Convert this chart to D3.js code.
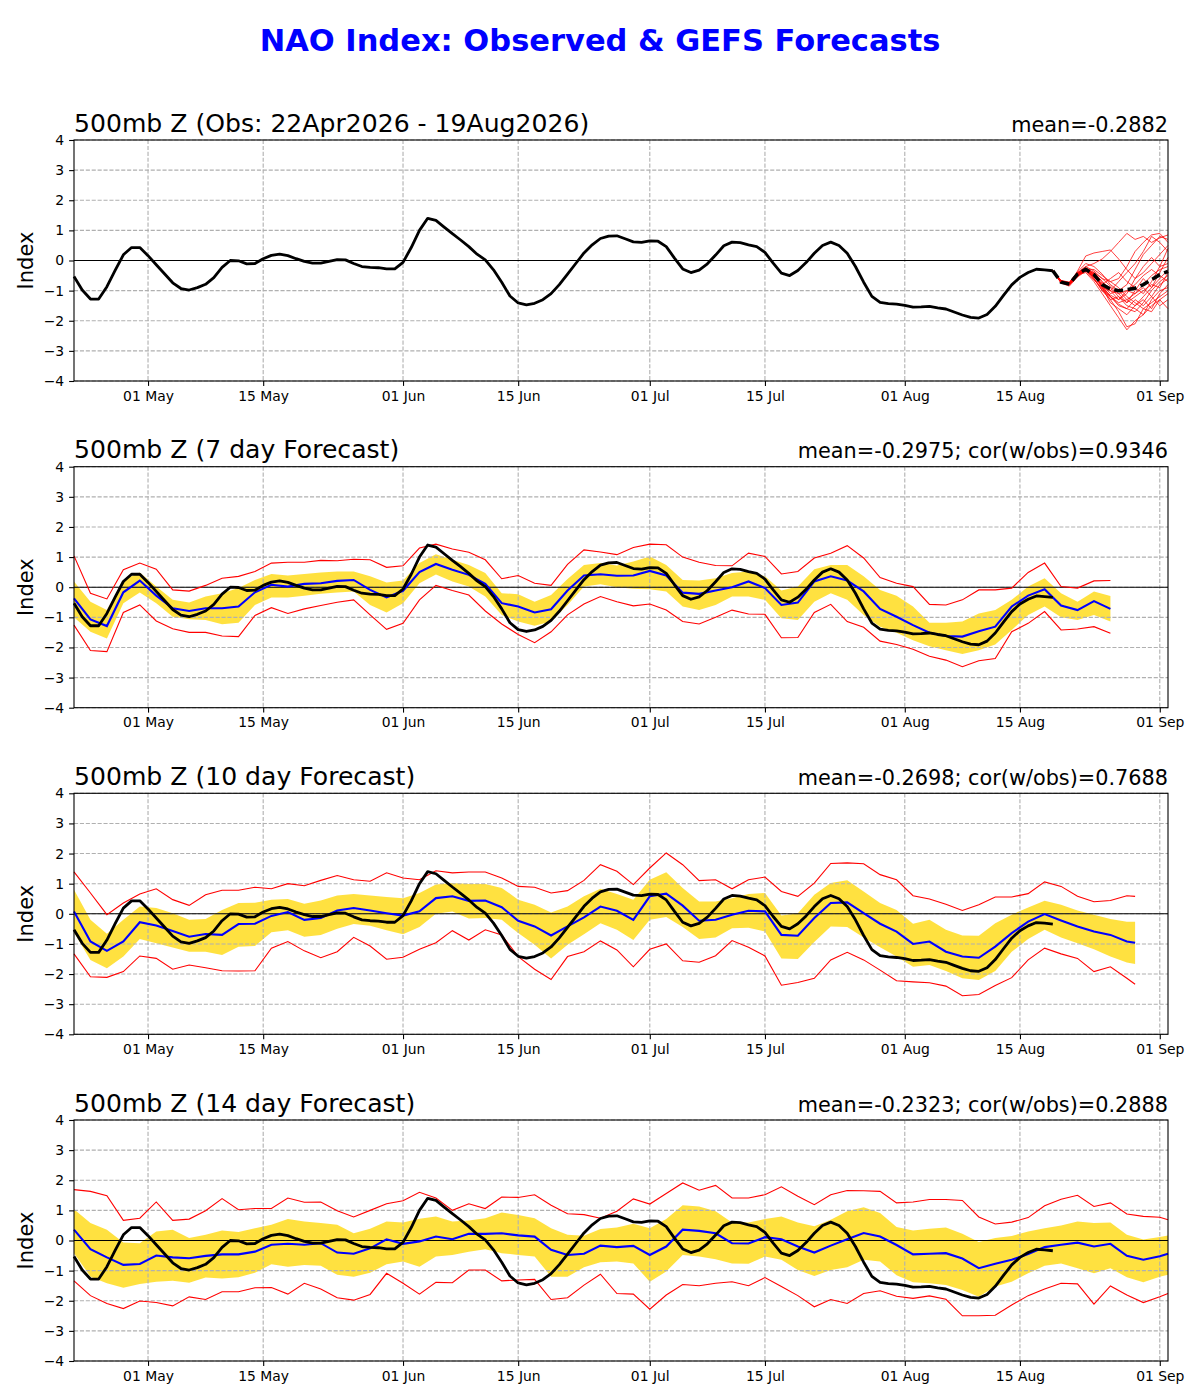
<!DOCTYPE html>
<html lang="en">
<head>
<meta charset="UTF-8">
<title>NAO Index: Observed & GEFS Forecasts</title>
<script src="https://cdn.jsdelivr.net/npm/d3@7"></script>
<style>
  body { margin: 0; background: #fff; }
  text { font-family: "DejaVu Sans", sans-serif; }
</style>
</head>
<body>
<script>
// ---- data ----
// observed NAO index, one value per day from 22 Apr 2026 to 19 Aug 2026
var obs = [
  -0.53,-0.98,-1.28,-1.28,-0.87,-0.33,0.19,0.43,0.43,0.16,
  -0.14,-0.44,-0.74,-0.93,-0.98,-0.90,-0.79,-0.57,-0.23,0.00,
  -0.01,-0.11,-0.10,0.06,0.17,0.21,0.16,0.06,-0.03,-0.09,
  -0.09,-0.03,0.03,0.02,-0.10,-0.20,-0.23,-0.24,-0.28,-0.28,
  -0.06,0.43,1.00,1.40,1.33,1.11,0.89,0.68,0.46,0.21,
  0.02,-0.31,-0.72,-1.18,-1.41,-1.47,-1.42,-1.30,-1.10,-0.80,
  -0.45,-0.10,0.25,0.52,0.73,0.81,0.82,0.72,0.62,0.60,
  0.65,0.64,0.46,0.08,-0.28,-0.40,-0.32,-0.11,0.18,0.49,
  0.61,0.59,0.52,0.46,0.27,-0.09,-0.42,-0.50,-0.33,-0.07,
  0.24,0.50,0.61,0.50,0.24,-0.20,-0.72,-1.19,-1.39,-1.43,
  -1.45,-1.49,-1.55,-1.54,-1.52,-1.57,-1.61,-1.71,-1.81,-1.89,
  -1.91,-1.79,-1.52,-1.16,-0.81,-0.56,-0.40,-0.29,-0.31,-0.34
];

// GEFS members, 19 Aug - 02 Sep (daily)
var ensMembers = [
  [-0.34,-0.68,-0.75,-0.42,-0.20,-0.10,0.05,0.30,0.60,0.90,0.70,0.80,0.60,0.75,0.85],
  [-0.34,-0.70,-0.80,-0.50,-0.30,-0.45,-0.90,-1.30,-1.70,-2.20,-2.10,-1.60,-1.40,-1.20,-1.00],
  [-0.34,-0.72,-0.78,-0.35,0.15,0.25,0.30,0.35,0.05,-0.30,-0.60,-0.40,-0.10,0.20,0.50],
  [-0.34,-0.66,-0.72,-0.40,-0.25,-0.60,-1.00,-1.20,-1.40,-1.30,-1.10,-0.90,-1.20,-1.50,-1.30],
  [-0.34,-0.75,-0.85,-0.55,-0.35,-0.55,-0.80,-1.10,-1.00,-0.80,-0.30,0.20,0.50,0.80,0.70],
  [-0.34,-0.70,-0.76,-0.48,-0.40,-0.70,-1.10,-1.50,-1.90,-2.30,-2.00,-1.80,-1.50,-1.30,-1.60],
  [-0.34,-0.68,-0.74,-0.45,-0.28,-0.30,-0.50,-0.70,-0.60,-0.20,0.30,0.60,0.85,0.90,0.60],
  [-0.34,-0.73,-0.80,-0.50,-0.35,-0.50,-0.85,-1.20,-1.50,-1.60,-1.70,-1.40,-1.00,-0.70,-0.50],
  [-0.34,-0.70,-0.77,-0.44,-0.30,-0.55,-0.75,-0.90,-1.20,-1.40,-1.20,-1.00,-0.80,-0.90,-0.40],
  [-0.34,-0.69,-0.79,-0.47,-0.32,-0.40,-0.60,-0.85,-1.10,-1.00,-0.80,-0.50,-0.30,-0.50,-0.70],
  [-0.34,-0.74,-0.82,-0.52,-0.33,-0.60,-1.00,-1.30,-1.20,-1.50,-1.60,-1.80,-1.30,-1.00,-0.90],
  [-0.34,-0.67,-0.73,-0.38,-0.10,-0.20,-0.45,-0.80,-1.00,-1.30,-1.50,-1.30,-1.60,-1.10,-0.80],
  [-0.34,-0.71,-0.80,-0.50,-0.30,-0.45,-0.70,-1.00,-1.30,-1.10,-0.60,-0.20,0.10,-0.20,-0.10],
  [-0.34,-0.72,-0.78,-0.43,-0.30,-0.50,-0.90,-1.40,-1.60,-1.80,-1.50,-1.20,-0.90,-0.60,-0.30],
  [-0.34,-0.70,-0.76,-0.46,-0.35,-0.65,-0.90,-1.00,-0.70,-0.40,-0.10,0.30,0.80,0.60,0.30],
  [-0.34,-0.69,-0.75,-0.41,-0.20,-0.35,-0.60,-0.70,-0.90,-1.20,-1.40,-1.60,-1.70,-1.30,-1.10],
  [-0.34,-0.73,-0.81,-0.48,-0.30,-0.60,-0.95,-1.15,-1.30,-1.00,-1.10,-0.80,-0.50,-0.30,-0.20],
  [-0.34,-0.70,-0.77,-0.45,-0.25,-0.40,-0.70,-1.00,-1.10,-1.40,-1.00,-0.60,-0.90,-0.40,0.10],
  [-0.34,-0.68,-0.78,-0.50,-0.30,-0.50,-0.80,-0.60,-0.40,-0.70,-0.90,-1.10,-0.70,-0.20,0.40],
  [-0.34,-0.71,-0.79,-0.44,-0.27,-0.45,-0.85,-1.20,-1.45,-1.60,-1.30,-1.50,-1.20,-0.80,-0.60]
];
var ensMean = [-0.34,-0.72,-0.78,-0.45,-0.29,-0.47,-0.80,-0.95,-1.00,-0.97,-0.92,-0.80,-0.64,-0.47,-0.36];

// verifying forecasts, every 2nd day from 22 Apr (last point = forecast end)
var p7Blue = [
  -0.37,-1.07,-1.29,-0.17,0.22,-0.28,-0.70,-0.79,-0.70,-0.70,
  -0.64,-0.17,0.08,0.02,0.11,0.13,0.21,0.24,-0.09,-0.34,
  -0.12,0.50,0.77,0.58,0.41,0.11,-0.53,-0.64,-0.84,-0.73,
  -0.11,0.39,0.43,0.38,0.39,0.54,0.39,-0.18,-0.22,-0.11,
  0.00,0.19,-0.03,-0.59,-0.51,0.19,0.36,0.22,-0.14,-0.72,
  -0.98,-1.26,-1.51,-1.62,-1.64,-1.46,-1.31,-0.64,-0.28,-0.07,
  -0.61,-0.76,-0.46,-0.72];
var p7BandHi = [
  0.19,-0.48,-0.76,0.24,0.49,0.02,-0.42,-0.51,-0.31,-0.20,
  -0.03,0.24,0.44,0.39,0.44,0.49,0.52,0.52,0.36,0.16,
  0.22,0.80,1.09,0.91,0.74,0.47,-0.20,-0.23,-0.48,-0.26,
  0.27,0.74,0.80,0.72,0.85,1.02,0.74,0.24,0.22,0.30,
  0.47,0.52,0.36,-0.11,0.02,0.60,0.74,0.74,0.36,-0.09,
  -0.28,-0.64,-1.18,-1.18,-1.14,-0.87,-0.76,-0.42,0.02,0.30,
  -0.20,-0.48,-0.14,-0.29];
var p7BandLo = [
  -1.00,-1.48,-1.70,-0.53,-0.18,-0.53,-0.98,-1.06,-1.09,-1.23,
  -1.18,-0.59,-0.34,-0.34,-0.28,-0.22,-0.18,-0.14,-0.59,-0.84,
  -0.53,0.13,0.42,0.19,0.02,-0.31,-0.92,-1.14,-1.28,-1.14,
  -0.59,0.02,0.10,0.00,-0.05,-0.07,-0.14,-0.64,-0.76,-0.59,
  -0.31,-0.31,-0.42,-1.03,-1.09,-0.48,-0.20,-0.42,-0.92,-1.31,
  -1.51,-1.76,-1.96,-2.09,-2.22,-2.09,-1.90,-1.42,-0.92,-0.64,
  -1.00,-1.09,-0.92,-1.14];
var p7RedHi = [
  1.04,-0.20,-0.39,0.58,0.80,0.60,-0.09,-0.13,0.06,0.30,
  0.36,0.52,0.80,0.83,0.83,0.89,0.88,0.93,0.91,0.66,
  0.71,1.30,1.43,1.27,1.16,0.91,0.28,0.39,0.13,0.06,
  0.76,1.24,1.17,1.08,1.32,1.43,1.41,1.00,0.83,0.72,
  0.71,1.13,1.02,0.44,0.52,0.97,1.13,1.38,0.97,0.32,
  0.13,0.02,-0.57,-0.59,-0.42,-0.09,-0.09,-0.03,0.49,0.80,
  0.02,-0.03,0.21,0.22];
var p7RedLo = [
  -1.26,-2.10,-2.14,-0.84,-0.59,-1.12,-1.38,-1.50,-1.50,-1.62,
  -1.64,-0.94,-0.68,-0.87,-0.72,-0.61,-0.50,-0.42,-0.92,-1.40,
  -1.20,-0.42,0.06,-0.11,-0.26,-0.79,-1.22,-1.57,-1.84,-1.48,
  -0.92,-0.56,-0.31,-0.48,-0.62,-0.56,-0.76,-1.14,-1.22,-1.00,
  -0.76,-0.89,-0.90,-1.68,-1.67,-0.84,-0.57,-1.14,-1.33,-1.79,
  -1.90,-2.06,-2.29,-2.42,-2.64,-2.44,-2.37,-1.48,-1.20,-0.81,
  -1.42,-1.39,-1.31,-1.53];

var p10Blue = [
  0.08,-0.92,-1.23,-0.92,-0.28,-0.39,-0.57,-0.76,-0.67,-0.70,
  -0.34,-0.33,-0.07,0.06,-0.20,-0.14,0.11,0.19,0.11,0.02,
  -0.06,0.08,0.52,0.58,0.43,0.44,0.22,-0.23,-0.42,-0.72,
  -0.42,-0.12,0.24,0.10,-0.20,0.58,0.67,0.27,-0.23,-0.20,
  -0.03,0.10,0.08,-0.70,-0.73,-0.14,0.36,0.38,0.02,-0.33,
  -0.59,-1.00,-0.92,-1.26,-1.42,-1.46,-1.09,-0.64,-0.26,-0.01,
  -0.22,-0.42,-0.59,-0.70,-0.92,-0.96];
var p10BandHi = [
  0.80,-0.20,-0.66,-0.20,0.24,0.19,0.02,-0.20,-0.17,0.13,
  0.36,0.37,0.47,0.49,0.33,0.44,0.61,0.66,0.61,0.56,
  0.52,0.69,0.97,1.02,0.99,0.99,0.86,0.47,0.30,0.04,
  0.24,0.58,0.83,0.66,0.47,1.13,1.38,0.86,0.41,0.41,
  0.52,0.66,0.69,-0.06,0.02,0.63,1.02,1.11,0.74,0.36,
  0.13,-0.33,-0.20,-0.53,-0.72,-0.73,-0.31,-0.03,0.21,0.43,
  0.30,0.11,-0.03,-0.17,-0.26,-0.26];
var p10BandLo = [
  -0.62,-1.53,-1.81,-1.42,-0.84,-0.98,-1.12,-1.26,-1.26,-1.37,
  -1.09,-1.07,-0.61,-0.55,-0.76,-0.70,-0.50,-0.34,-0.40,-0.55,
  -0.68,-0.44,0.00,0.08,-0.16,-0.14,-0.20,-0.64,-1.03,-1.48,
  -1.03,-0.68,-0.31,-0.53,-0.87,-0.20,-0.11,-0.44,-0.84,-0.79,
  -0.48,-0.46,-0.59,-1.48,-1.50,-0.94,-0.42,-0.44,-0.79,-1.11,
  -1.42,-1.76,-1.70,-1.90,-2.14,-2.20,-1.90,-1.26,-0.84,-0.53,
  -0.79,-0.98,-1.18,-1.42,-1.62,-1.67];
var p10RedHi = [
  1.39,0.69,-0.03,0.36,0.66,0.83,0.47,0.28,0.63,0.78,
  0.78,0.88,0.83,1.00,0.93,1.11,1.27,1.13,1.08,1.36,
  1.19,1.13,1.43,1.36,1.39,1.39,1.19,0.91,0.88,0.69,
  0.77,1.11,1.63,1.41,0.97,1.52,2.02,1.63,1.10,1.13,
  0.83,1.13,1.22,0.74,0.58,1.02,1.67,1.69,1.66,1.30,
  1.13,0.60,0.49,0.32,0.11,0.30,0.56,0.56,0.67,1.06,
  0.91,0.58,0.40,0.44,0.60,0.58];
var p10RedLo = [
  -1.33,-2.09,-2.11,-1.92,-1.40,-1.48,-1.84,-1.70,-1.79,-1.89,
  -1.90,-1.89,-1.14,-0.92,-1.23,-1.46,-1.26,-0.78,-1.07,-1.51,
  -1.44,-1.18,-0.96,-0.56,-0.87,-0.53,-0.70,-1.42,-1.84,-2.18,
  -1.42,-1.26,-0.90,-1.20,-1.76,-1.18,-1.00,-1.56,-1.61,-1.39,
  -0.89,-1.11,-1.40,-2.37,-2.28,-2.14,-1.53,-1.28,-1.53,-1.87,
  -2.22,-2.26,-2.29,-2.40,-2.72,-2.68,-2.38,-2.12,-1.53,-1.14,
  -1.33,-1.48,-1.92,-1.76,-2.14,-2.34];

var p14Blue = [
  0.36,-0.29,-0.56,-0.81,-0.78,-0.50,-0.56,-0.59,-0.51,-0.46,
  -0.46,-0.37,-0.14,-0.11,-0.14,-0.09,-0.40,-0.44,-0.26,0.04,
  -0.11,-0.03,0.13,0.04,0.22,0.22,0.24,0.17,0.13,-0.31,
  -0.48,-0.44,-0.17,-0.22,-0.18,-0.48,-0.20,0.36,0.32,0.24,
  -0.09,-0.10,0.11,0.04,-0.20,-0.40,-0.17,0.04,0.25,0.13,
  -0.15,-0.46,-0.44,-0.42,-0.60,-0.92,-0.77,-0.64,-0.45,-0.22,
  -0.14,-0.07,-0.20,-0.11,-0.51,-0.64,-0.52,-0.44];
var p14BandHi = [
  1.04,0.58,0.36,-0.07,-0.09,0.30,0.36,0.08,0.19,0.33,
  0.28,0.41,0.52,0.71,0.63,0.58,0.52,0.24,0.39,0.63,
  0.60,0.72,0.80,0.63,0.66,0.74,0.93,0.85,0.74,0.41,
  0.19,0.16,0.38,0.43,0.56,0.41,0.71,1.17,1.13,0.97,
  0.60,0.60,0.71,0.80,0.60,0.47,0.69,0.97,1.10,0.91,
  0.45,0.33,0.39,0.43,0.22,-0.05,0.08,0.15,0.30,0.41,
  0.50,0.63,0.58,0.60,0.19,0.03,0.12,0.17];
var p14BandLo = [
  -0.42,-1.20,-1.42,-1.57,-1.44,-1.37,-1.34,-1.40,-1.23,-1.26,
  -1.22,-1.07,-0.79,-0.87,-0.81,-0.84,-1.14,-1.20,-1.07,-0.79,
  -0.70,-0.87,-0.53,-0.48,-0.37,-0.29,-0.42,-0.48,-0.53,-1.20,
  -1.20,-0.89,-0.72,-0.70,-0.76,-1.37,-1.03,-0.48,-0.53,-0.62,
  -0.76,-0.77,-0.53,-0.64,-0.98,-1.18,-0.98,-0.89,-0.64,-0.70,
  -1.15,-1.39,-1.42,-1.48,-1.64,-1.87,-1.53,-1.37,-1.09,-0.84,
  -0.76,-0.92,-1.09,-0.92,-1.22,-1.39,-1.20,-1.14];
var p14RedHi = [
  1.69,1.63,1.49,0.67,0.74,1.28,0.67,0.71,0.99,1.39,
  1.02,1.06,1.06,1.41,1.27,1.28,0.99,0.78,1.00,1.22,
  1.32,1.60,1.41,1.00,1.22,1.06,1.44,1.43,1.52,1.17,
  0.89,0.86,0.74,0.97,1.38,1.21,1.56,1.91,1.67,1.83,
  1.41,1.41,1.52,1.78,1.47,1.19,1.52,1.66,1.65,1.63,
  1.25,1.28,1.36,1.36,1.33,0.78,0.55,0.61,0.76,1.15,
  1.37,1.50,1.13,1.25,0.88,0.80,0.77,0.69];
var p14RedLo = [
  -1.34,-1.83,-2.09,-2.26,-2.01,-2.06,-2.17,-1.87,-1.96,-1.70,
  -1.70,-1.57,-1.56,-1.78,-1.42,-1.61,-1.90,-1.98,-1.79,-1.09,
  -1.42,-1.78,-1.39,-1.40,-0.98,-0.98,-1.34,-1.31,-1.29,-1.96,
  -1.90,-1.48,-1.12,-1.76,-1.78,-2.28,-1.81,-1.46,-1.50,-1.42,
  -1.37,-1.50,-1.23,-1.53,-1.83,-2.20,-1.96,-2.09,-1.76,-1.67,
  -1.85,-1.92,-1.84,-1.95,-2.50,-2.50,-2.48,-2.14,-1.83,-1.61,
  -1.42,-1.44,-2.11,-1.51,-1.81,-2.06,-1.87,-1.76];

var tickDates = ["2026-05-01","2026-05-15","2026-06-01","2026-06-15","2026-07-01",
                 "2026-07-15","2026-08-01","2026-08-15","2026-09-01"];
var yTicks = [-4,-3,-2,-1,0,1,2,3,4];

var panelTitles = ["500mb Z (Obs: 22Apr2026 - 19Aug2026)", "500mb Z (7 day Forecast)",
                   "500mb Z (10 day Forecast)", "500mb Z (14 day Forecast)"];
var panelStats = ["mean=-0.2882", "mean=-0.2975; cor(w/obs)=0.9346",
                  "mean=-0.2698; cor(w/obs)=0.7688", "mean=-0.2323; cor(w/obs)=0.2888"];

// ---- layout ----
var width = 1200, height = 1400,
    left = 74, right = 1168, plotH = 241,
    tops = [140, 466.7, 793.3, 1120];

var startMs = Date.UTC(2026, 3, 22);
function dayDate(d) { return new Date(startMs + d * 864e5); }
function everyOther(end) {
    var r = d3.range(0, end + 1, 2);
    if (r[r.length - 1] !== end) r.push(end);
    return r;
}

var forecasts = [
    null,
    {end: 126, blue: p7Blue,  hi: p7BandHi,  lo: p7BandLo,  rhi: p7RedHi,  rlo: p7RedLo},
    {end: 129, blue: p10Blue, hi: p10BandHi, lo: p10BandLo, rhi: p10RedHi, rlo: p10RedLo},
    {end: 133, blue: p14Blue, hi: p14BandHi, lo: p14BandLo, rhi: p14RedHi, rlo: p14RedLo}
];

var svg = d3.select('body').append('svg')
    .attr('width', width)
    .attr('height', height)
    .style('display', 'block');

svg.append('text')
    .attr('x', width / 2).attr('y', 51)
    .attr('text-anchor', 'middle')
    .style('font-size', '30.5px').style('font-weight', 'bold')
    .attr('fill', '#0000ff')
    .text('NAO Index: Observed & GEFS Forecasts');

var x = d3.scaleUtc()
    .domain([new Date(Date.UTC(2026, 3, 22)), new Date(Date.UTC(2026, 8, 2))])
    .range([left, right]);
var parse = d3.utcParse('%Y-%m-%d');
var ticks = tickDates.map(parse);

tops.forEach(function(top, p) {
    var y = d3.scaleLinear().domain([-4, 4]).range([top + plotH, top]);
    var g = svg.append('g');
    var fc = forecasts[p];

    // spread band first (grid is drawn over it)
    if (fc) {
        var days = everyOther(fc.end);
        var band = d3.area()
            .x(function(d, i) { return x(dayDate(days[i])); })
            .y0(function(d, i) { return y(fc.lo[i]); })
            .y1(function(d, i) { return y(fc.hi[i]); });
        g.append('path').attr('d', band(fc.hi))
            .attr('fill', '#ffd700').attr('fill-opacity', 0.75);
    }

    // grid
    g.selectAll('.hgrid').data(yTicks).enter().append('line')
        .attr('x1', left).attr('x2', right)
        .attr('y1', function(d) { return y(d); }).attr('y2', function(d) { return y(d); })
        .attr('stroke', '#b0b0b0').attr('stroke-width', 1.1).attr('stroke-dasharray', '4.1,1.8');
    g.selectAll('.vgrid').data(ticks).enter().append('line')
        .attr('y1', top).attr('y2', top + plotH)
        .attr('x1', function(d) { return x(d); }).attr('x2', function(d) { return x(d); })
        .attr('stroke', '#b0b0b0').attr('stroke-width', 1.1).attr('stroke-dasharray', '4.1,1.8');

    // zero line
    g.append('line').attr('x1', left).attr('x2', right)
        .attr('y1', y(0)).attr('y2', y(0))
        .attr('stroke', 'black').attr('stroke-width', 1.1);

    var line = d3.line()
        .x(function(d) { return x(dayDate(d[0])); })
        .y(function(d) { return y(d[1]); });

    if (fc) {
        var days2 = everyOther(fc.end);
        [fc.rhi, fc.rlo].forEach(function(s) {
            g.append('path').attr('d', line(s.map(function(v, i) { return [days2[i], v]; })))
                .attr('fill', 'none').attr('stroke', 'red').attr('stroke-width', 1.1);
        });
        g.append('path').attr('d', line(fc.blue.map(function(v, i) { return [days2[i], v]; })))
            .attr('fill', 'none').attr('stroke', 'blue').attr('stroke-width', 2.1);
    } else {
        // ensemble members and their mean
        ensMembers.forEach(function(m) {
            g.append('path').attr('d', line(m.map(function(v, i) { return [119 + i, v]; })))
                .attr('fill', 'none').attr('stroke', 'red').attr('stroke-opacity', 0.75)
                .attr('stroke-width', 1);
        });
    }

    // observations
    g.append('path').attr('d', line(obs.map(function(v, i) { return [i, v]; })))
        .attr('fill', 'none').attr('stroke', 'black').attr('stroke-width', 2.8)
        .attr('stroke-linejoin', 'round');

    if (!fc) {
        g.append('path').attr('d', line(ensMean.map(function(v, i) { return [119 + i, v]; })))
            .attr('fill', 'none').attr('stroke', 'black').attr('stroke-width', 3.5)
            .attr('stroke-dasharray', '9,4.5');
    }

    // frame
    g.append('rect').attr('x', left).attr('y', top)
        .attr('width', right - left).attr('height', plotH)
        .attr('fill', 'none').attr('stroke', 'black').attr('stroke-width', 1.1);

    // axes
    var yAxis = d3.axisLeft(y).tickValues(yTicks).tickSize(4.9).tickPadding(4.9)
        .tickFormat(function(d) { return d < 0 ? '\u2212' + Math.abs(d) : d; });
    var ya = g.append('g').attr('transform', 'translate(' + left + ',0)').call(yAxis);
    var xAxis = d3.axisBottom(x).tickValues(ticks).tickSize(4.9).tickPadding(4.9)
        .tickFormat(d3.utcFormat('%d %b'));
    var xa = g.append('g').attr('transform', 'translate(0,' + (top + plotH) + ')').call(xAxis);
    [ya, xa].forEach(function(a) {
        a.select('.domain').remove();
        a.selectAll('.tick line').attr('stroke', 'black').attr('stroke-width', 1.1);
        a.selectAll('.tick text').style('font-size', '13.9px')
            .style('font-family', '"DejaVu Sans", sans-serif').attr('fill', 'black');
    });

    // titles and axis label
    g.append('text').attr('x', left).attr('y', top - 8.3)
        .style('font-size', '25.1px').text(panelTitles[p]);
    g.append('text').attr('x', right).attr('y', top - 8.3)
        .attr('text-anchor', 'end')
        .style('font-size', '20.8px').text(panelStats[p]);
    g.append('text')
        .attr('transform', 'translate(33,' + (top + plotH / 2) + ') rotate(-90)')
        .attr('text-anchor', 'middle')
        .style('font-size', '21px').text('Index');
});
</script>
</body>
</html>
